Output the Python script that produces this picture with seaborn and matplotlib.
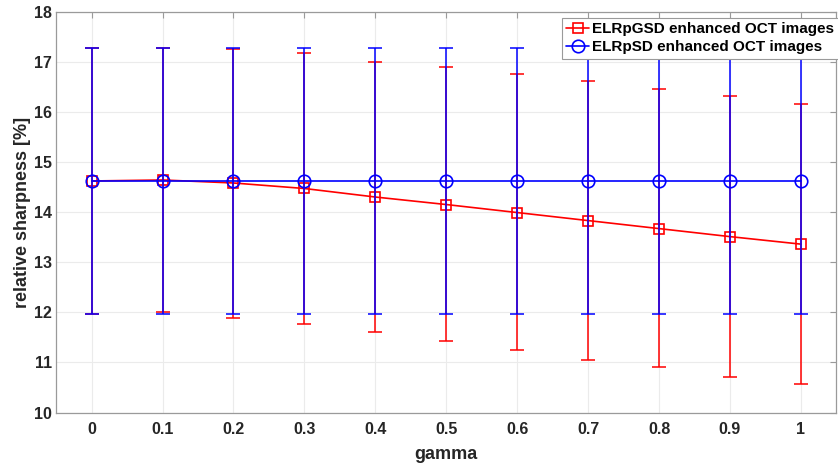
import numpy as np
import pandas as pd
import matplotlib
matplotlib.use("Agg")
import matplotlib.pyplot as plt
import seaborn as sns

gamma = [0.0, 0.1, 0.2, 0.3, 0.4, 0.5, 0.6, 0.7, 0.8, 0.9, 1.0]
gsd_mean = [14.62, 14.64, 14.58, 14.47, 14.30, 14.15, 13.99, 13.83, 13.67, 13.51, 13.36]
gsd_upper = [17.27, 17.27, 17.25, 17.17, 17.00, 16.89, 16.76, 16.61, 16.46, 16.31, 16.16]
gsd_lower = [11.97, 12.01, 11.89, 11.77, 11.60, 11.42, 11.24, 11.05, 10.90, 10.71, 10.57]
sd_mean = [14.62] * 11
sd_upper = [17.27] * 11
sd_lower = [11.97] * 11
series_names = ["ELRpGSD enhanced OCT images", "ELRpSD enhanced OCT images"]
xtick_labels = ["0", "0.1", "0.2", "0.3", "0.4", "0.5", "0.6", "0.7", "0.8", "0.9", "1"]

sns.set_style("whitegrid")
plt.rcParams['font.family'] = ['Liberation Sans', 'DejaVu Sans']

fig = plt.figure(figsize=(8.38, 4.63), dpi=100)
ax = fig.add_axes([0.067, 0.109, 0.931, 0.866])

df = pd.DataFrame({
    "gamma": gamma * 2,
    "value": gsd_mean + sd_mean,
    "series": [series_names[0]] * 11 + [series_names[1]] * 11,
})

colors = ["#FF0000", "#0000FF"]
markers = ["s", "o"]
msizes = [7, 9]
specs = [(gsd_mean, gsd_lower, gsd_upper), (sd_mean, sd_lower, sd_upper)]

for i, name in enumerate(series_names):
    m, lo, up = specs[i]
    m = np.array(m); lo = np.array(lo); up = np.array(up)
    ax.errorbar(gamma, m, yerr=[m - lo, up - m], fmt="none", ecolor=colors[i],
                elinewidth=1.1, capsize=5, capthick=1.1, zorder=2 + i * 2)
    sns.lineplot(data=df[df["series"] == name], x="gamma", y="value", ax=ax,
                 color=colors[i], marker=markers[i], markersize=msizes[i],
                 markerfacecolor="none", markeredgecolor=colors[i],
                 markeredgewidth=1.2, linewidth=1.2, label=name,
                 zorder=3 + i * 2)

ax.set_xlim(-0.05, 1.05)
ax.set_ylim(10, 18)
ax.set_xticks(gamma)
ax.set_xticklabels(xtick_labels)
ax.set_yticks(np.arange(10, 19, 1))
ax.grid(True, color="#ebebeb", linewidth=0.8)
for s in ax.spines.values():
    s.set_visible(True)
    s.set_color("#9a9a9a")
    s.set_linewidth(0.9)
ax.tick_params(axis="both", direction="in", length=4, color="#9a9a9a",
               labelsize=11.5, labelcolor="#262626", top=True, right=True)
ax.tick_params(axis="x", pad=7)
ax.tick_params(axis="y", pad=3)
for lab in ax.get_xticklabels() + ax.get_yticklabels():
    lab.set_fontweight("bold")
ax.set_xlabel("gamma", fontsize=13, fontweight="bold", color="#262626", labelpad=6)
ax.set_ylabel("relative sharpness [%]", fontsize=13, fontweight="bold", color="#262626", labelpad=2)

leg = ax.legend(loc="upper right", bbox_to_anchor=(1.003, 0.985), frameon=True, fancybox=False,
                borderpad=0.3, handlelength=1.5, handletextpad=0.2,
                labelspacing=0.25, borderaxespad=0.0,
                prop={"weight": "bold", "size": 11})
leg.get_frame().set_edgecolor("#9a9a9a")
leg.get_frame().set_linewidth(0.8)
leg.get_frame().set_alpha(1)
for t in leg.get_texts():
    t.set_color("#000000")

fig.savefig("out.png", dpi=100)
